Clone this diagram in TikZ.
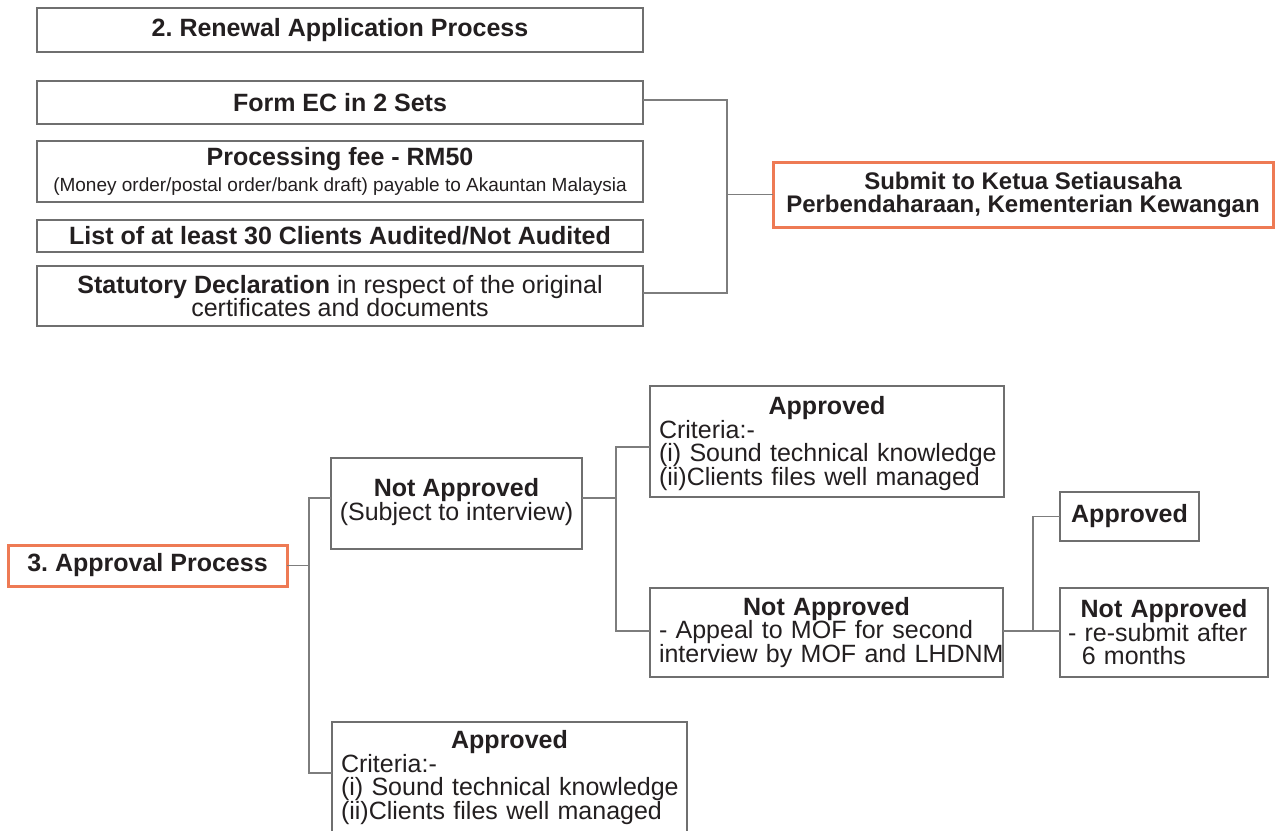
\documentclass[tikz,border=0pt]{standalone}
\usepackage{fontspec}
\setmainfont{Liberation Sans}
\frenchspacing
\usetikzlibrary{calc}
\definecolor{ink}{HTML}{231F20}
\definecolor{framegray}{HTML}{6F6F6F}
\definecolor{linegray}{HTML}{7D7D7D}
\definecolor{accent}{HTML}{EE7A54}
% centred bold heading line inside a left-aligned box
\newcommand\boxhead[2]{\makebox[#1]{\textbf{#2}}}
\begin{document}
\begin{tikzpicture}[x=1pt,y=-1pt,
  box/.style={draw=framegray, line width=2.2pt, fill=white, inner sep=0pt, outer sep=0pt,
    text=ink, align=center, font=\fontsize{25}{23.5}\selectfont},
  hotbox/.style={box, draw=accent, line width=3pt},
  sz/.style 2 args={minimum width=#1pt, minimum height=#2pt},
  conn/.style={draw=linegray, line width=1.5pt}]
\useasboundingbox (0,0) rectangle (1279,830);
\clip (0,0) rectangle (1279,830);

% ---- 2. Renewal application process ----
\node[box, sz={606}{44}, font=\fontsize{25}{23.5}\selectfont\bfseries] (title) at (340,30)
  {2. Renewal Application Process};
\node[box, sz={606}{43}, font=\fontsize{25}{23.5}\selectfont\bfseries] (formec) at (340,102.5)
  {Form EC in 2 Sets};
\node[box, sz={606}{61}] (fee) at (340,171.5)
  {\textbf{Processing fee - RM50}\\[2pt]
   {\fontsize{19}{21}\selectfont (Money order/postal order/bank draft) payable to Akauntan Malaysia}};
\node[box, sz={606}{32}, font=\fontsize{25}{23.5}\selectfont\bfseries] (list) at (340,236)
  {List of at least 30 Clients Audited/Not Audited};
\node[box, sz={606}{60}] (statdecl) at (340,296)
  {\textbf{Statutory Declaration} in respect of the original\\certificates and documents};
\node[hotbox, sz={500}{65}, font=\fontsize{24}{23}\selectfont\bfseries] (submit) at (1023,194.5)
  {Submit to Ketua Setiausaha\\Perbendaharaan, Kementerian Kewangan};

\coordinate (j1) at (727,194.5);
\draw[conn] ([yshift=2.5pt]formec.east) -| (j1) |- ([yshift=3pt]statdecl.east);
\draw[conn] (j1) -- (submit.west);

% ---- 3. Approval process ----
\node[hotbox, sz={279}{41}, font=\fontsize{25}{23.5}\selectfont\bfseries] (approval) at (147.5,565.5)
  {3. Approval Process};
\node[box, sz={251}{91}] (na1) at (456.5,503.5)
  {\textbf{Not Approved}\\(Subject to interview)\\[-22pt]\strut};
\node[box, sz={354}{111}, text width=336pt, align=left] (appA) at (827,441.5)
  {\rule{0pt}{22pt}\boxhead{336pt}{Approved}\\Criteria:-\\\mbox{(i) Sound technical knowledge}\\\mbox{(ii)Clients files well managed}};
\node[box, sz={353}{89}, text width=335pt, align=left] (na2) at (826.5,632.5)
  {\boxhead{335pt}{Not Approved}\\\mbox{- Appeal to MOF for second}\\\mbox{interview by MOF and LHDNM}};
\node[box, sz={139}{49}, font=\fontsize{25}{23.5}\selectfont\bfseries] (appS) at (1129.5,516.5)
  {Approved};
\node[box, sz={208}{89}, text width=192pt, align=left] (na3) at (1164,632.5)
  {\boxhead{192pt}{Not Approved}\\\mbox{- re-submit after}\\\hspace*{0.55em}6 months};
\node[box, sz={355}{111}, text width=337pt, align=left] (appB) at (509.5,777.5)
  {\boxhead{337pt}{Approved}\\Criteria:-\\\mbox{(i) Sound technical knowledge}\\\mbox{(ii)Clients files well managed}};

\coordinate (j2) at (309,565.5);
\draw[conn] (approval.east) -- (j2);
\draw[conn] ([yshift=-40pt]na1.north west) -| (j2) |- ([yshift=-51pt]appB.north west);

\coordinate (j3) at (616,498);
\draw[conn] ([yshift=-40pt]na1.north east) -- (j3);
\draw[conn] ([yshift=-61pt]appA.north west) -| (j3) |- ([yshift=-43pt]na2.north west);

\coordinate (j4) at (1033,631);
\draw[conn] ([yshift=-43pt]na2.north east) -- (j4);
\draw[conn] (appS.west) -| (j4) -- (j4 -| na3.west);
\end{tikzpicture}
\end{document}
